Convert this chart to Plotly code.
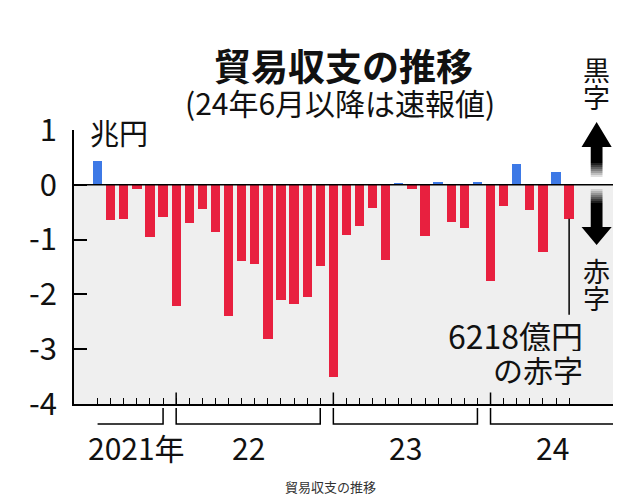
import plotly.graph_objects as go

# ---- data (trillion yen), Jul 2021 .. Jul 2024 ----
months = [f"{y}-{m:02d}" for y, m in
          [(2021, m) for m in range(7, 13)] + [(2022, m) for m in range(1, 13)] +
          [(2023, m) for m in range(1, 13)] + [(2024, m) for m in range(1, 8)]]
values = [0.43, -0.65, -0.63, -0.08, -0.96, -0.59,
          -2.22, -0.70, -0.45, -0.86, -2.40, -1.39, -1.45, -2.81, -2.11, -2.18, -2.05, -1.48,
          -3.51, -0.91, -0.75, -0.43, -1.38, 0.04, -0.07, -0.93, 0.06, -0.67, -0.79, 0.06,
          -1.76, -0.38, 0.38, -0.46, -1.22, 0.23, -0.6218]
ytick_vals = [1, 0, -1, -2, -3, -4]
ytick_text = ["1", "0", "-1", "-2", "-3", "-4"]
year_labels = ["2021年", "22", "23", "24"]

idx = list(range(len(values)))
colors = ["#3d79e6" if v > 0 else "#e8203f" for v in values]
jan_idx = [i for i, m in enumerate(months) if m.endswith("-01")]
XMIN, XMAX = -1.8, 39.35

FONT = "Noto Sans CJK JP"
fig = go.Figure(go.Bar(x=idx, y=values, marker=dict(color=colors, line_width=0),
                       width=0.71, hoverinfo="skip"))

shapes = []
# gray area below zero
shapes.append(dict(type="rect", xref="paper", yref="y", x0=0, x1=1, y0=-4, y1=0,
                   fillcolor="#efefef", line_width=0, layer="below"))
# zero line
shapes.append(dict(type="line", xref="paper", yref="y", x0=0, x1=1, y0=0, y1=0,
                   line=dict(color="black", width=1.5)))
# major (January) ticks
for j in jan_idx:
    shapes.append(dict(type="line", xref="x", yref="y", x0=j, x1=j, y0=-4, y1=-3.79,
                       line=dict(color="black", width=1.5)))

# year brackets
def py(p):  # page pixel y -> paper y
    return (404 - p) / 274

yb, yt = py(424), py(408)
# 2021 (Jul-Dec), right end only
shapes.append(dict(type="path", xref="x", yref="paper",
                   path=f"M {idx[0]} {yb} L {jan_idx[0]-1} {yb} L {jan_idx[0]-1} {yt}",
                   line=dict(color="black", width=1.5)))
# 2022, 2023 full years
for j in jan_idx[:2]:
    shapes.append(dict(type="path", xref="x", yref="paper",
                       path=f"M {j} {yt} L {j} {yb} L {j+11} {yb} L {j+11} {yt}",
                       line=dict(color="black", width=1.5)))
# 2024 open to the right
shapes.append(dict(type="path", xref="x", yref="paper",
                   path=f"M {jan_idx[2]} {yt} L {jan_idx[2]} {yb} L {XMAX} {yb}",
                   line=dict(color="black", width=1.5)))

# leader line for last bar
shapes.append(dict(type="line", xref="x", yref="y", x0=idx[-1], x1=idx[-1],
                   y0=values[-1], y1=-2.37, line=dict(color="black", width=1.5)))

# arrows on the right
ax = 38.1
hs, hh = 0.45, 1.15
up_tip, up_base, up_solid = py(122), py(147), py(163)
dn_tip, dn_base, dn_solid = py(245), py(227), py(203)
shapes.append(dict(type="path", xref="x", yref="paper",
                   path=f"M {ax} {up_tip} L {ax+hh} {up_base} L {ax+hs} {up_base} L {ax+hs} {up_solid} "
                        f"L {ax-hs} {up_solid} L {ax-hs} {up_base} L {ax-hh} {up_base} Z",
                   fillcolor="black", line_width=0))
shapes.append(dict(type="path", xref="x", yref="paper",
                   path=f"M {ax} {dn_tip} L {ax+hh} {dn_base} L {ax+hs} {dn_base} L {ax+hs} {dn_solid} "
                        f"L {ax-hs} {dn_solid} L {ax-hs} {dn_base} L {ax-hh} {dn_base} Z",
                   fillcolor="black", line_width=0))
# fading shaft segments
nseg = 7
for k in range(nseg):
    op = 1 - (k + 1) / (nseg + 1)
    a0 = py(163 + k * 2)
    a1 = py(163 + (k + 1) * 2)
    shapes.append(dict(type="rect", xref="x", yref="paper", x0=ax-hs, x1=ax+hs, y0=a1, y1=a0,
                       fillcolor="black", opacity=op, line_width=0))
    b0 = py(203 - k * 2)
    b1 = py(203 - (k + 1) * 2)
    shapes.append(dict(type="rect", xref="x", yref="paper", x0=ax-hs, x1=ax+hs, y0=b0, y1=b1,
                       fillcolor="black", opacity=op, line_width=0))

def txt(text, x, y, size, xref="paper", xanchor="center", color="#111", h=None):
    d = dict(text=text, xref=xref, yref="paper", x=x, y=y, xanchor=xanchor, yanchor="middle",
             showarrow=False, font=dict(size=size, family=FONT, color=color))
    if h:
        d["height"] = h
        d["valign"] = "middle"
    return d

annotations = [
    txt("<b>貿易収支の推移</b>", (343-74)/539, py(65), 37),
    txt("(24年6月以降は速報値)", (340-74)/539, py(102), 30),
    txt("兆円", (88-74)/539, py(132), 29, xanchor="left"),
    txt("黒", ax, py(69), 27, xref="x", h=27),
    txt("字", ax, py(96), 27, xref="x", h=27),
    txt("赤", ax, py(270), 27, xref="x", h=27),
    txt("字", ax, py(297), 27, xref="x", h=27),
    txt(f"{round(-values[-1]*10000)}億円", 37.25, py(335), 32, xref="x", xanchor="right", h=32),
    txt("の赤字", 37.25, py(369), 30, xref="x", xanchor="right", h=32),
    txt("貿易収支の推移", (330-74)/539, py(486), 13, color="#333"),
]
# year labels
year_x = [(idx[0] + jan_idx[0] - 1) / 2 + 0.5, jan_idx[0] + 5.5, jan_idx[1] + 5.5, jan_idx[2] + 4.7]
for t, xv in zip(year_labels, year_x):
    annotations.append(txt(t, xv, py(447), 30, xref="x"))

# the page body adds an 8px margin, so the figure is 8px smaller and margins shifted
fig.update_layout(
    width=635, height=492,
    margin=dict(l=66, r=30, t=122, b=96, autoexpand=False),
    paper_bgcolor="white", plot_bgcolor="white",
    showlegend=False, bargap=0,
    font=dict(family=FONT, color="#111"),
    shapes=shapes, annotations=annotations,
    xaxis=dict(range=[XMIN, XMAX], tickvals=idx, ticks="inside", ticklen=6, tickwidth=1.3,
               tickcolor="black", showticklabels=False, showline=True, linecolor="black",
               linewidth=1.5, showgrid=False, zeroline=False, fixedrange=True, automargin=False),
    yaxis=dict(range=[-4, 1], tickvals=ytick_vals, ticktext=ytick_text, ticks="inside",
               ticklen=13, tickwidth=1.5, tickcolor="black", showline=True, linecolor="black",
               linewidth=1.5, showgrid=False, zeroline=False, ticklabelstandoff=9,
               tickfont=dict(size=31, family=FONT, color="#111"), fixedrange=True,
               automargin=False),
)
fig.write_html("out.html", config={"displayModeBar": False})
